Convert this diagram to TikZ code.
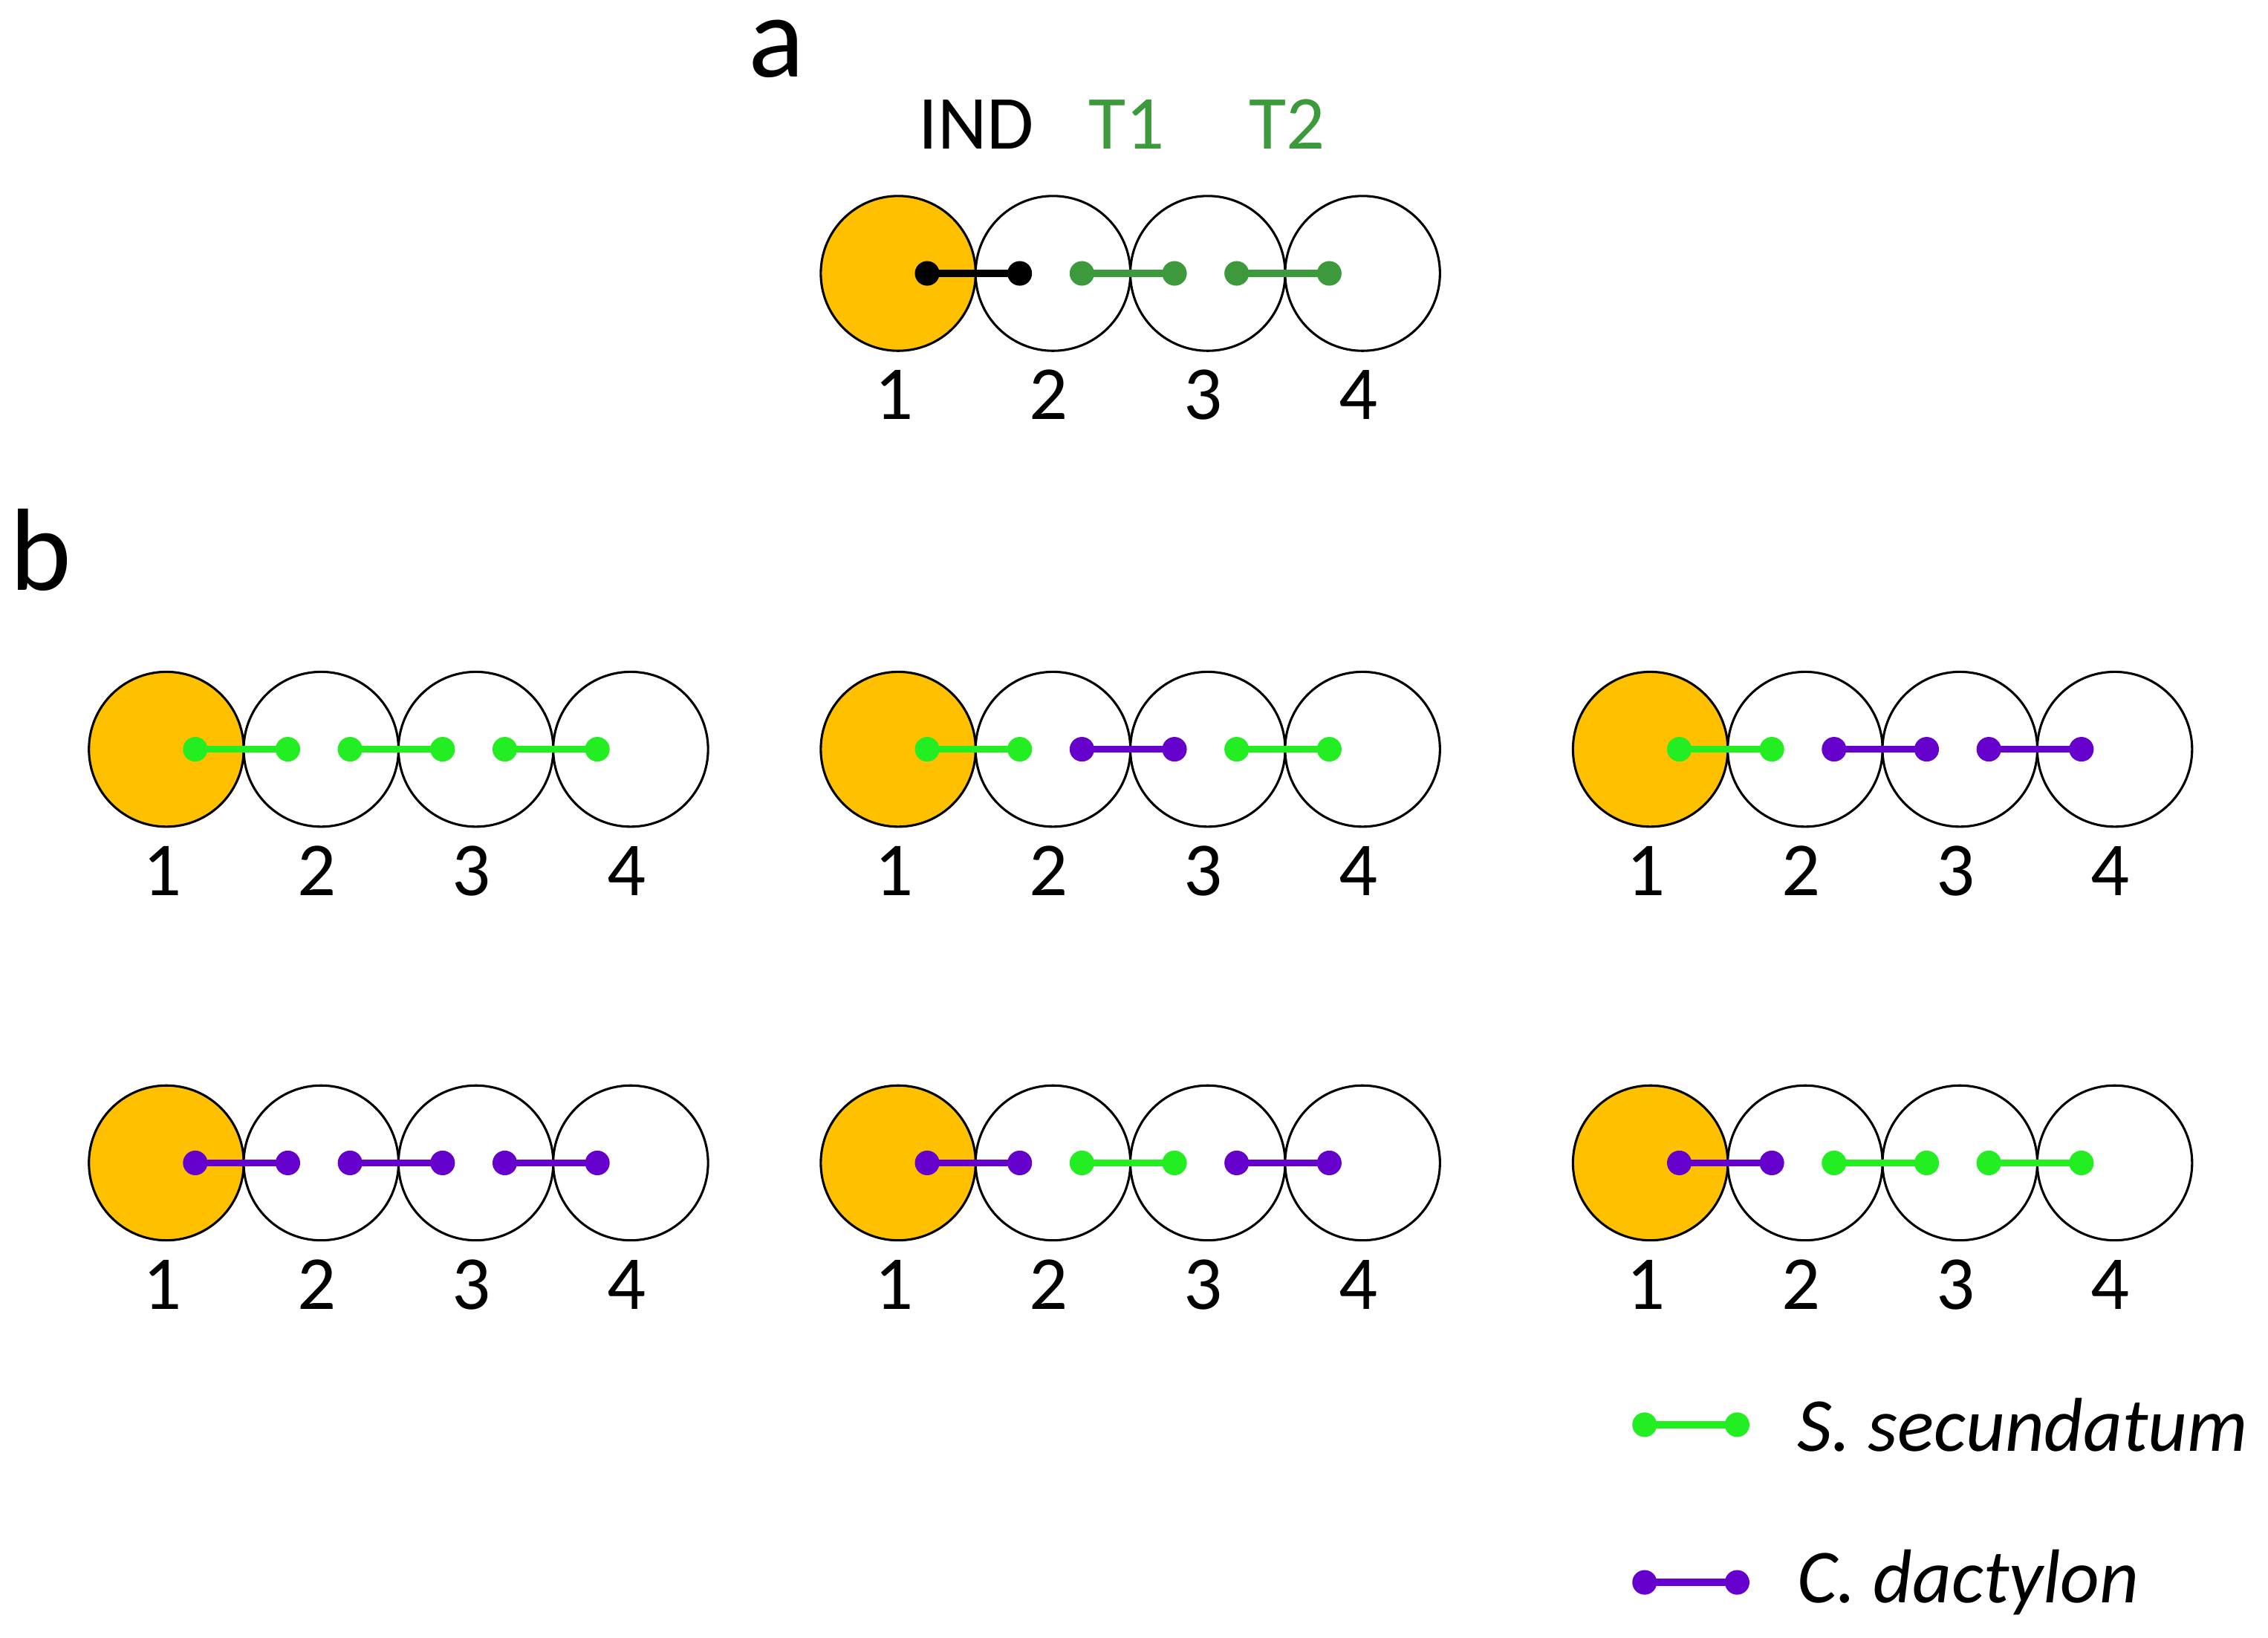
\documentclass[tikz,border=0pt]{standalone}
\usepackage{fontspec}
\setmainfont{Carlito}
\begin{document}
\definecolor{orng}{HTML}{FFC000}
\definecolor{lg}{HTML}{22EE22}
\definecolor{dg}{HTML}{3C9A3C}
\definecolor{pu}{HTML}{6600CC}
\begin{tikzpicture}[x=0.01cm,y=-0.01cm,
  cell/.style={circle,draw=black,line width=0.45pt,minimum size=1.07cm,inner sep=0pt},
  num/.style={font=\fontsize{15}{18}\selectfont},
  seg/.style={line width=1.4pt},
  dot/.style={circle,fill,inner sep=0pt,minimum size=0.17cm}]
\useasboundingbox (0,0) rectangle (1568,1132);
\newcommand{\grp}[6]{% name, x, y, c1,c2,c3
  \foreach \i/\c in {0/orng,1/white,2/white,3/white}{
    \node[cell,fill=\c] (#1c\i) at ({#2+107*\i},#3) {};
    \node[num] (#1n\i) at ({#2+107*\i-3},{#3+84}) {\the\numexpr\i+1\relax};
  }
  \foreach \i/\c in {0/#4,1/#5,2/#6}{
    \coordinate (#1s\i) at ({#2+107*\i+20},#3);
    \coordinate (#1e\i) at ({#2+107*\i+84},#3);
    \draw[seg,\c] (#1s\i) -- (#1e\i);
    \node[dot,\c] at (#1s\i) {};
    \node[dot,\c] at (#1e\i) {};
  }}
\node[font=\fontsize{23}{28}\selectfont,inner sep=0pt] (la) at (537,34) {a};
\node[font=\fontsize{23}{28}\selectfont] (lb) at (28,380) {b};
\node[font=\fontsize{15}{18}\selectfont] (ind) at (675,86) {IND};
\node[font=\fontsize{15}{18}\selectfont,text=dg] (t1) at (779,86) {T1};
\node[font=\fontsize{15}{18}\selectfont,text=dg] (t2) at (890,86) {T2};
\grp{A}{621}{189}{black}{dg}{dg}
\grp{B}{115}{518}{lg}{lg}{lg}
\grp{C}{621}{518}{lg}{pu}{lg}
\grp{D}{1141}{518}{lg}{pu}{pu}
\grp{E}{115}{804}{pu}{pu}{pu}
\grp{F}{621}{804}{pu}{lg}{pu}
\grp{G}{1141}{804}{pu}{lg}{lg}
\coordinate (l1a) at (1137,985); \coordinate (l1b) at (1201,985);
\draw[seg,lg] (l1a) -- (l1b); \node[dot,lg] at (l1a) {}; \node[dot,lg] at (l1b) {};
\node[anchor=west,font=\fontsize{15}{18}\selectfont\itshape] (t3) at (1230,985) {S. secundatum};
\coordinate (l2a) at (1137,1094); \coordinate (l2b) at (1201,1094);
\draw[seg,pu] (l2a) -- (l2b); \node[dot,pu] at (l2a) {}; \node[dot,pu] at (l2b) {};
\node[anchor=west,font=\fontsize{15}{18}\selectfont\itshape] (t4) at (1230,1094) {C. dactylon};
\end{tikzpicture}
\end{document}
